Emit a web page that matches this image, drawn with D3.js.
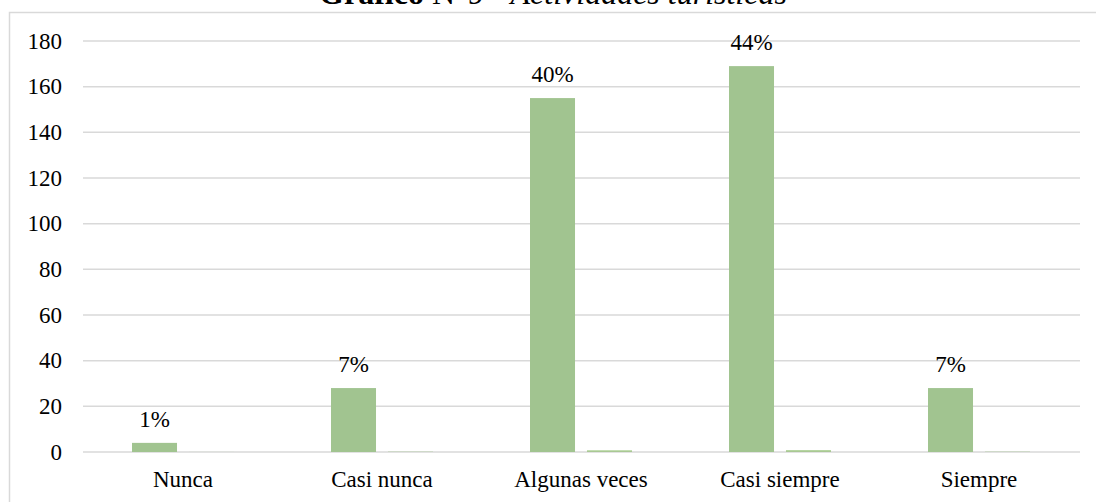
<!DOCTYPE html>
<html>
<head>
<meta charset="utf-8">
<script src="https://cdn.jsdelivr.net/npm/d3@7"></script>
<style>
  body { margin: 0; background: #fff; }
  text { font-family: "Liberation Serif", "Times New Roman", serif; fill: #000; }
</style>
</head>
<body>
<div id="chart"></div>
<script>
// data
var categories = ["Nunca", "Casi nunca", "Algunas veces", "Casi siempre", "Siempre"];
var counts = [4, 28, 155, 169, 28];
var shares = [0.01, 0.07, 0.40, 0.44, 0.07];
var yTicks = [0, 20, 40, 60, 80, 100, 120, 140, 160, 180];

var W = 1096, H = 502;

var svg = d3.select("#chart").append("svg")
    .attr("width", W)
    .attr("height", H);

// chart border (only top/left visible in the crop)
svg.append("rect")
    .attr("x", 9.5).attr("y", 12.5)
    .attr("width", 1200).attr("height", 600)
    .attr("fill", "none")
    .attr("stroke", "#d9d9d9")
    .attr("stroke-width", 1.5);

// title, clipped at the top like the reference
var title = svg.append("text")
    .attr("x", 553).attr("y", 4)
    .attr("text-anchor", "middle")
    .style("font-size", "32px");
title.append("tspan").style("font-weight", "bold").text("Gráfico");
title.append("tspan").text(" N°9 - ");
title.append("tspan").style("font-style", "italic").text("Actividades turísticas");

var x0 = d3.scaleBand()
    .domain(categories)
    .range([83.5, 1078.5]);

var x1 = d3.scaleBand()
    .domain(["count", "share"])
    .range([48.5, 150.5])
    .paddingInner(0.21);

var y = d3.scaleLinear()
    .domain([0, 180])
    .range([452, 41]);

// gridlines
svg.append("g")
    .selectAll("line")
    .data(yTicks)
    .enter().append("line")
      .attr("x1", 83).attr("x2", 1080)
      .attr("y1", function(d) { return y(d); })
      .attr("y2", function(d) { return y(d); })
      .attr("stroke", "#d9d9d9")
      .attr("stroke-width", 1.5);

// y axis labels
svg.append("g")
    .selectAll("text")
    .data(yTicks)
    .enter().append("text")
      .attr("x", 62)
      .attr("y", function(d) { return y(d); })
      .attr("dy", "0.34em")
      .attr("text-anchor", "end")
      .style("font-size", "23px")
      .text(function(d) { return d; });

var group = svg.selectAll(".cat")
    .data(categories)
    .enter().append("g")
      .attr("class", "cat")
      .attr("transform", function(d) { return "translate(" + x0(d) + ",0)"; });

// counts
group.append("rect")
    .attr("x", x1("count"))
    .attr("width", x1.bandwidth())
    .attr("y", function(d, i) { return y(counts[i]); })
    .attr("height", function(d, i) { return y(0) - y(counts[i]); })
    .attr("fill", "#a1c490");

// shares drawn on the same axis (barely visible)
group.append("rect")
    .attr("x", x1("share"))
    .attr("width", x1.bandwidth())
    .attr("y", function(d, i) { return y(shares[i]) - 0.5; })
    .attr("height", function(d, i) { return y(0) - y(shares[i]); })
    .attr("fill", "#70ad47");

// percentage labels
group.append("text")
    .attr("x", x1("count") + x1.bandwidth() / 2)
    .attr("y", function(d, i) { return y(counts[i]) - 16; })
    .attr("text-anchor", "middle")
    .style("font-size", "23px")
    .text(function(d, i) { return d3.format(".0%")(shares[i]); });

// category labels
svg.append("g")
    .selectAll("text")
    .data(categories)
    .enter().append("text")
      .attr("x", function(d) { return x0(d) + x0.bandwidth() / 2; })
      .attr("y", 487)
      .attr("text-anchor", "middle")
      .style("font-size", "23px")
      .text(function(d) { return d; });
</script>
</body>
</html>
